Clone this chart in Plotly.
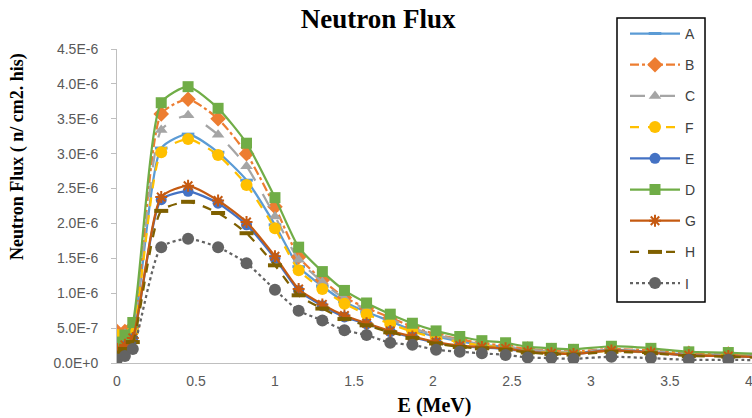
import plotly.graph_objects as go

energy = [0.0, 0.05, 0.1, 0.28, 0.45, 0.64, 0.82, 1.0, 1.15, 1.3, 1.44, 1.58, 1.73, 1.87,
          2.02, 2.17, 2.31, 2.46, 2.6, 2.75, 2.89, 3.13, 3.38, 3.62, 3.87, 4.12]

flux_A = [0.35, 0.38, 0.47, 3.08, 3.28, 3.02, 2.62, 1.98, 1.38, 1.10, 0.88, 0.73, 0.60, 0.47,
          0.38, 0.31, 0.26, 0.23, 0.18, 0.16, 0.15, 0.18, 0.16, 0.12, 0.11, 0.09]
flux_B = [0.45, 0.45, 0.52, 3.57, 3.78, 3.50, 3.00, 2.24, 1.52, 1.19, 0.94, 0.79, 0.65, 0.52,
          0.41, 0.34, 0.28, 0.25, 0.20, 0.18, 0.165, 0.20, 0.18, 0.14, 0.13, 0.10]
flux_C = [0.40, 0.42, 0.50, 3.34, 3.55, 3.27, 2.82, 2.10, 1.48, 1.16, 0.92, 0.77, 0.63, 0.50,
          0.40, 0.33, 0.27, 0.24, 0.19, 0.17, 0.16, 0.19, 0.17, 0.13, 0.12, 0.10]
flux_F = [0.40, 0.38, 0.45, 3.02, 3.21, 2.98, 2.55, 1.93, 1.33, 1.06, 0.85, 0.70, 0.56, 0.45,
          0.36, 0.30, 0.25, 0.22, 0.17, 0.15, 0.14, 0.17, 0.15, 0.12, 0.11, 0.09]
flux_E = [0.20, 0.25, 0.35, 2.34, 2.46, 2.29, 1.98, 1.50, 1.04, 0.82, 0.66, 0.56, 0.45, 0.37,
          0.29, 0.24, 0.22, 0.20, 0.16, 0.14, 0.13, 0.18, 0.15, 0.11, 0.10, 0.08]
flux_D = [0.30, 0.40, 0.58, 3.73, 3.96, 3.65, 3.15, 2.37, 1.66, 1.31, 1.04, 0.86, 0.70, 0.57,
          0.46, 0.38, 0.32, 0.29, 0.23, 0.21, 0.196, 0.24, 0.21, 0.16, 0.15, 0.12]
flux_G = [0.20, 0.26, 0.36, 2.38, 2.54, 2.33, 2.02, 1.53, 1.06, 0.84, 0.68, 0.57, 0.46, 0.38,
          0.30, 0.25, 0.23, 0.21, 0.16, 0.14, 0.13, 0.18, 0.15, 0.11, 0.10, 0.08]
flux_H = [0.15, 0.20, 0.30, 2.18, 2.31, 2.15, 1.86, 1.40, 0.97, 0.78, 0.63, 0.54, 0.44, 0.36,
          0.28, 0.23, 0.21, 0.19, 0.15, 0.13, 0.12, 0.16, 0.14, 0.10, 0.09, 0.07]
flux_I = [0.05, 0.10, 0.20, 1.66, 1.78, 1.66, 1.43, 1.05, 0.75, 0.61, 0.47, 0.40, 0.29, 0.26,
          0.19, 0.16, 0.14, 0.115, 0.08, 0.07, 0.06, 0.09, 0.07, 0.045, 0.045, 0.04]

series_names = ["A", "B", "C", "F", "E", "D", "G", "H", "I"]
series_values = [flux_A, flux_B, flux_C, flux_F, flux_E, flux_D, flux_G, flux_H, flux_I]

y_tick_vals = [0, 0.5e-6, 1.0e-6, 1.5e-6, 2.0e-6, 2.5e-6, 3.0e-6, 3.5e-6, 4.0e-6, 4.5e-6]
y_tick_text = ["0.0E+0", "5.0E-7", "1.0E-6", "1.5E-6", "2.0E-6", "2.5E-6", "3.0E-6",
               "3.5E-6", "4.0E-6", "4.5E-6"]
x_tick_vals = [0, 0.5, 1, 1.5, 2, 2.5, 3, 3.5, 4]
x_tick_text = ["0", "0.5", "1", "1.5", "2", "2.5", "3", "3.5", "4"]

styles = {
    "A": dict(line=dict(color="#5B9BD5", width=2.25, dash="solid"),
              marker=dict(symbol="line-ew-open", size=9, line=dict(color="#5B9BD5", width=3))),
    "B": dict(line=dict(color="#ED7D31", width=2.25, dash="dashdot"),
              marker=dict(symbol="diamond", size=12, color="#ED7D31")),
    "C": dict(line=dict(color="#A5A5A5", width=2.25, dash="longdash"),
              marker=dict(symbol="triangle-up", size=11, color="#A5A5A5")),
    "F": dict(line=dict(color="#FFC000", width=2.25, dash="dash"),
              marker=dict(symbol="circle", size=12, color="#FFC000")),
    "E": dict(line=dict(color="#4472C4", width=2.25, dash="solid"),
              marker=dict(symbol="circle", size=11, color="#4472C4")),
    "D": dict(line=dict(color="#70AD47", width=2.25, dash="solid"),
              marker=dict(symbol="square", size=11, color="#70AD47")),
    "G": dict(line=dict(color="#C55A11", width=2.25, dash="solid"),
              marker=dict(symbol="asterisk-open", size=10, line=dict(color="#255E91", width=2))),
    "H": dict(line=dict(color="#7F6000", width=2.25, dash="dash"),
              marker=dict(symbol="line-ew-open", size=10, line=dict(color="#9E480E", width=4))),
    "I": dict(line=dict(color="#636363", width=2.25, dash="dot"),
              marker=dict(symbol="circle", size=12, color="#636363")),
}

fig = go.Figure()
for name, vals in zip(series_names, series_values):
    st = styles[name]
    fig.add_trace(go.Scatter(
        x=energy, y=[v * 1e-6 for v in vals], name=name, mode="lines+markers",
        line=dict(shape="spline", smoothing=0.6, **st["line"]),
        marker=st["marker"], cliponaxis=True, legendgroup=name,
    ))

fig.update_layout(
    width=752, height=418,
    margin=dict(l=117, r=0, t=49, b=55, autoexpand=False),
    paper_bgcolor="white", plot_bgcolor="white",
    title=dict(text="<b>Neutron Flux</b>", x=0.503, xanchor="center", y=0.955, yanchor="middle",
               font=dict(family="Liberation Serif", size=27, color="#000000")),
    showlegend=True,
    legend=dict(x=0.80, y=1.099, xanchor="left", yanchor="top",
                bgcolor="rgba(0,0,0,0)", borderwidth=0,
                font=dict(family="Liberation Sans", size=14, color="#404040"),
                itemwidth=50, tracegroupgap=10, traceorder="grouped", maxheight=400),
    shapes=[dict(type="rect", xref="paper", yref="paper", x0=0.7874, x1=0.926,
                 y0=0.1943, y1=1.0987, line=dict(color="#000000", width=1.5),
                 fillcolor="white", layer="below")],
    xaxis=dict(range=[0, 4.02], tickvals=x_tick_vals, ticktext=x_tick_text, automargin=False,
               showgrid=False, zeroline=False, showline=True, linecolor="#BFBFBF", linewidth=1,
               ticks="", ticklabelstandoff=5, ticklabeloverflow="allow",
               tickfont=dict(family="Liberation Sans", size=14, color="#595959"),
               title=dict(text="<b>E (MeV)</b>", standoff=10,
                          font=dict(family="Liberation Serif", size=20, color="#000000"))),
    yaxis=dict(range=[0, 4.5e-6], tickvals=y_tick_vals, ticktext=y_tick_text, automargin=False,
               showgrid=False, zeroline=False, showline=True, linecolor="#BFBFBF", linewidth=1,
               ticks="outside", ticklen=5, tickcolor="#BFBFBF", ticklabelstandoff=10,
               tickfont=dict(family="Liberation Sans", size=14, color="#595959")),
    annotations=[dict(text="<b>Neutron Flux ( n/ cm2. his)</b>", textangle=-90,
                      xref="paper", yref="paper", x=-0.157, y=0.657,
                      xanchor="center", yanchor="middle", showarrow=False,
                      font=dict(family="Liberation Serif", size=18, color="#000000"))],
)

fig.write_html("out.html", config={"displayModeBar": False},
               post_script="document.body.style.margin='0';document.body.style.overflow='hidden';")
